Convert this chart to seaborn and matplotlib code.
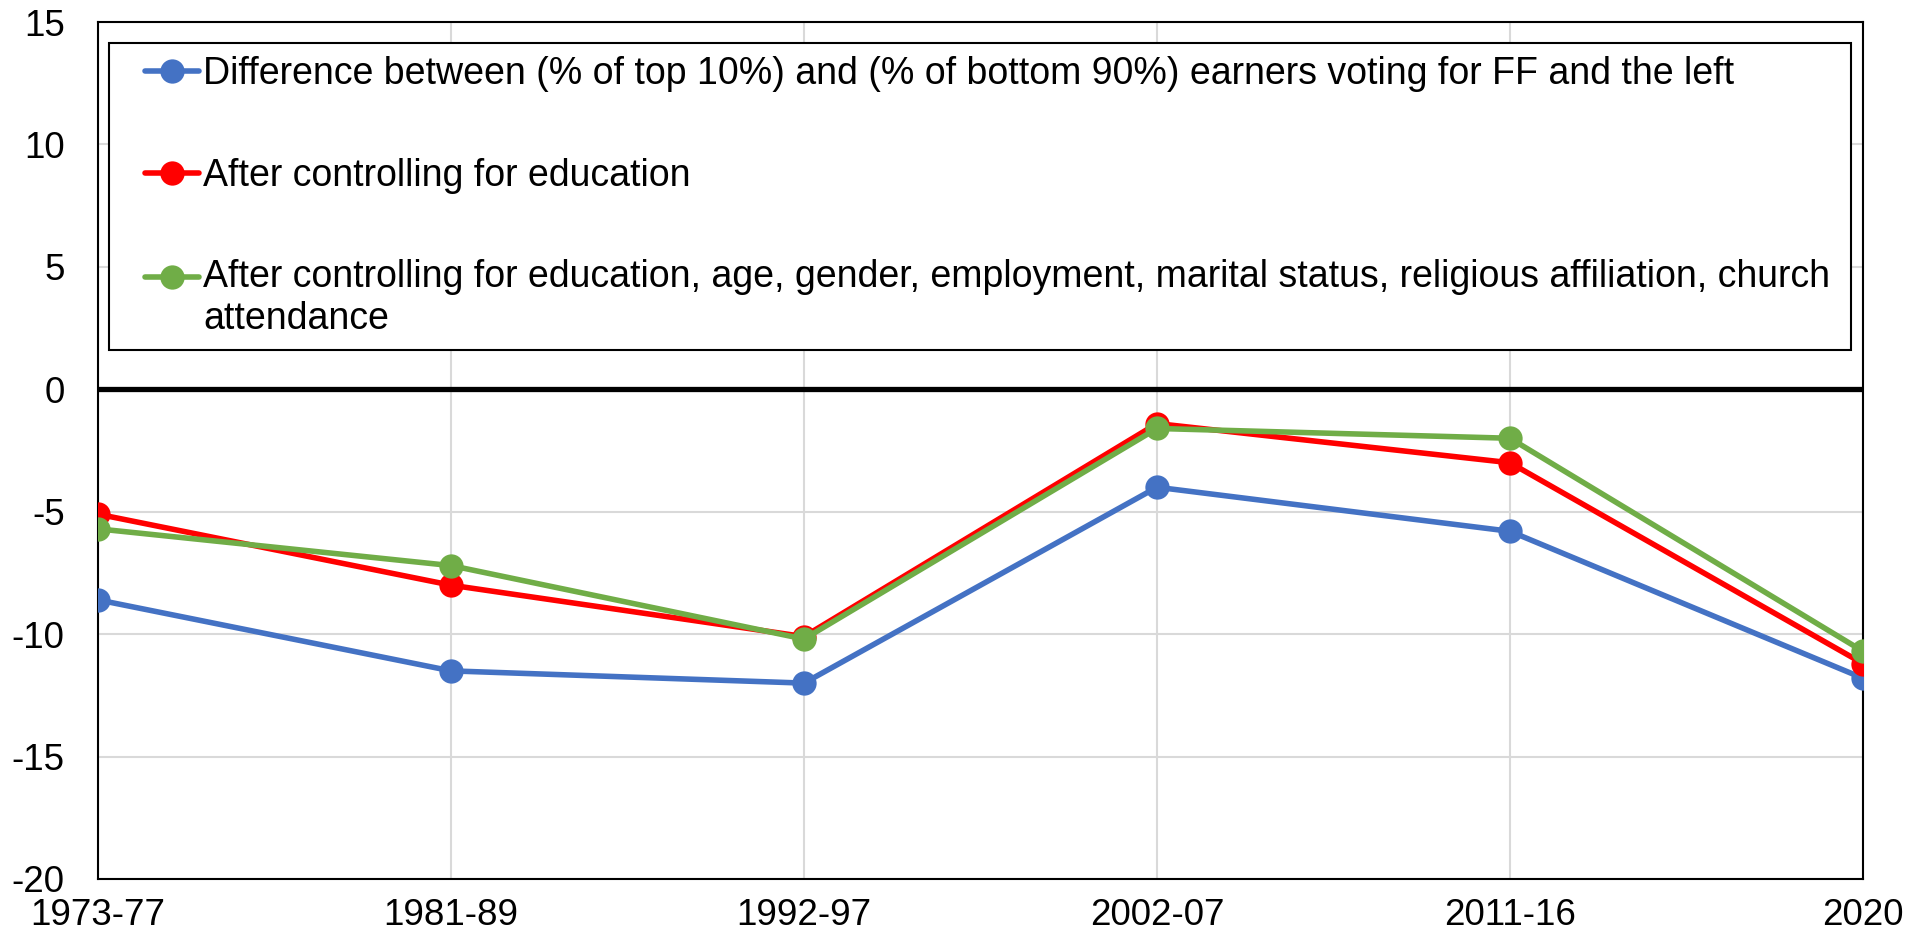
import matplotlib
matplotlib.use("Agg")
import matplotlib.pyplot as plt
import seaborn as sns
import pandas as pd
from matplotlib.lines import Line2D
from matplotlib.legend_handler import HandlerLine2D

periods = ["1973-77", "1981-89", "1992-97", "2002-07", "2011-16", "2020"]
diff_raw = [-8.6, -11.5, -12.0, -4.0, -5.8, -11.8]
ctrl_edu = [-5.1, -8.0, -10.1, -1.4, -3.0, -11.2]
ctrl_all = [-5.7, -7.2, -10.2, -1.6, -2.0, -10.7]

labels = [
    "Difference between (% of top 10%) and (% of bottom 90%) earners voting for FF and the left",
    "After controlling for education",
    "After controlling for education, age, gender, employment, marital status, religious affiliation, church\nattendance",
]
colors = ["#4472C4", "#FF0000", "#70AD47"]
yticks = [15, 10, 5, 0, -5, -10, -15, -20]

rows = []
for lab, vals in zip(labels, [diff_raw, ctrl_edu, ctrl_all]):
    for i, (p, v) in enumerate(zip(periods, vals)):
        rows.append({"x": i, "period": p, "value": v, "series": lab})
df = pd.DataFrame(rows)

sns.set_theme(style="white")
plt.rcParams["font.family"] = ["Liberation Sans", "DejaVu Sans"]
plt.rcParams["axes.unicode_minus"] = False

fig = plt.figure(figsize=(19.22, 9.52), dpi=100)
ax = fig.add_axes([98 / 1922, 1 - 879 / 952, 1765 / 1922, 857 / 952])

# grid
for yt in yticks:
    ax.axhline(yt, color="#d9d9d9", lw=1.5, zorder=0)
for i in range(len(periods)):
    ax.axvline(i, color="#d9d9d9", lw=1.5, zorder=0)
ax.axhline(0, color="black", lw=3.8, zorder=1)

sns.lineplot(data=df, x="x", y="value", hue="series", hue_order=labels,
             palette=colors, marker="o", markersize=17.5, markeredgewidth=0,
             linewidth=4, ax=ax, legend=False, zorder=3)

ax.set_xlim(0, len(periods) - 1)
ax.set_ylim(-20, 15)
ax.set_xticks(range(len(periods)))
ax.set_xticklabels(periods)
ax.set_yticks(yticks)
ax.set_yticklabels([str(t) for t in yticks])
ax.set_xlabel("")
ax.set_ylabel("")
ax.tick_params(axis="both", length=0, labelsize=26.5, colors="black")
ax.tick_params(axis="y", pad=24)
ax.tick_params(axis="x", pad=14)
for s in ax.spines.values():
    s.set_visible(True)
    s.set_color("black")
    s.set_linewidth(1.5)


class ShiftedHandler(HandlerLine2D):
    def __init__(self, dy=0.0, **kw):
        super().__init__(**kw)
        self.dy = dy

    def create_artists(self, legend, orig_handle, xdescent, ydescent,
                       width, height, fontsize, trans):
        arts = super().create_artists(legend, orig_handle, xdescent, ydescent,
                                      width, height, fontsize, trans)
        for a in arts:
            a.set_ydata([y + self.dy for y in a.get_ydata()])
        return arts


handles = [Line2D([0], [0], color=c, lw=4, marker="o", markersize=17.5, markeredgewidth=0)
           for c in colors]
hmap = {
    handles[0]: ShiftedHandler(dy=0, xpad=0.61),
    handles[1]: ShiftedHandler(dy=0, xpad=0.61),
    handles[2]: ShiftedHandler(dy=16, xpad=0.61),
}
leg = ax.legend(handles, labels, loc="upper left",
                bbox_to_anchor=(0.0062, 0.621, 0.9868, 0.3545), mode="expand",
                fontsize=27, frameon=True, fancybox=False, edgecolor="black",
                framealpha=1, handlelength=2.04, handletextpad=0.12,
                labelspacing=1.75, borderpad=0.35, borderaxespad=0,
                handler_map=hmap)
leg.get_frame().set_linewidth(1.5)
leg.set_zorder(5)
for t in leg.get_texts():
    t.set_color("black")

fig.savefig("out.png", dpi=100)
